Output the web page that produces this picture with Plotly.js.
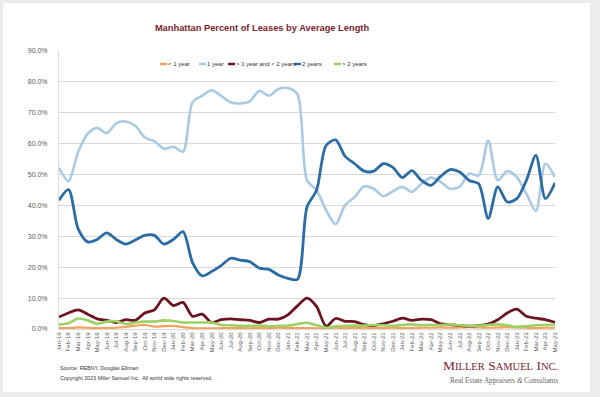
<!DOCTYPE html>
<html>
<head>
<meta charset="utf-8">
<script src="https://cdn.plot.ly/plotly-3.0.1.min.js"></script>
<style>
html,body{margin:0;padding:0;background:#ececec;width:600px;height:397px;overflow:hidden;}
#card{position:absolute;left:3px;top:3px;width:587px;height:389px;background:#ffffff;}
#chart{position:absolute;left:0;top:0;width:600px;height:397px;}
</style>
</head>
<body>
<div id="card"></div>
<div id="chart"></div>
<script>
const months = ["Jan-19","Feb-19","Mar-19","Apr-19","May-19","Jun-19","Jul-19","Aug-19","Sep-19","Oct-19","Nov-19","Dec-19",
"Jan-20","Feb-20","Mar-20","Apr-20","May-20","Jun-20","Jul-20","Aug-20","Sep-20","Oct-20","Nov-20","Dec-20",
"Jan-21","Feb-21","Mar-21","Apr-21","May-21","Jun-21","Jul-21","Aug-21","Sep-21","Oct-21","Nov-21","Dec-21",
"Jan-22","Feb-22","Mar-22","Apr-22","May-22","Jun-22","Jul-22","Aug-22","Sep-22","Oct-22","Nov-22","Dec-22",
"Jan-23","Feb-23","Mar-23","Apr-23","May-23"];

const lessThan1Year = [0.3,0.3,0.5,0.4,0.3,0.3,0.4,0.7,1.1,1.3,
0.8,0.9,1.0,0.6,0.3,0.2,0.2,0.3,0.3,0.3,
0.2,0.3,0.3,0.4,0.3,0.3,0.3,0.2,0.3,0.4,
0.3,0.3,0.4,0.3,0.3,0.4,0.3,0.3,0.4,0.4,
0.5,0.4,0.5,0.6,0.5,0.4,0.5,0.6,0.5,0.4,
0.3,0.4,0.4];

const oneYear = [52.2,47.9,57.3,63.2,65.1,63.4,66.6,67.2,65.8,62.0,
60.8,58.4,59.0,57.4,73.4,75.5,77.3,75.5,73.4,73.0,
73.7,77.1,75.5,77.7,78.0,76.0,48.1,44.9,38.5,33.9,
40.1,42.7,46.2,45.4,43.0,44.6,46.0,44.4,47.0,49.0,
47.6,45.4,46.0,50.3,49.7,61.0,48.1,51.1,49.2,43.8,
38.2,53.5,49.2];

const oneToTwoYears = [3.9,5.2,6.2,4.8,3.3,2.8,2.1,3.0,2.8,5.2,
6.2,10.0,7.6,8.6,4.1,4.8,2.1,3.0,3.3,3.0,
2.8,2.1,3.2,3.2,4.6,7.5,10.0,7.3,0.9,3.4,
2.5,2.4,1.4,1.1,1.7,2.5,3.5,2.8,3.2,3.0,
1.7,1.4,1.1,0.9,1.1,1.6,3.0,5.2,6.4,4.1,
3.5,3.0,2.1];

const twoYears = [41.7,45.1,32.5,28.2,29.0,31.1,29.0,27.5,28.8,30.3,
30.3,27.5,29.0,31.5,21.5,17.2,18.6,20.5,22.9,22.3,
21.8,19.7,19.3,17.5,16.4,16.1,39.5,44.9,59.4,61.2,
55.9,53.5,51.1,51.1,53.5,52.3,49.0,51.3,48.1,46.5,
49.4,51.6,50.8,48.1,47.0,35.8,46.0,41.1,42.2,48.1,
56.2,42.2,47.3];

const moreThan2Years = [1.4,1.9,3.4,2.8,1.7,2.4,2.5,1.6,2.1,2.4,
2.4,2.8,2.6,2.1,2.1,2.1,2.1,1.3,1.2,1.0,
1.0,1.1,0.9,1.0,1.1,1.6,2.0,1.2,0.4,0.9,
1.0,1.1,1.1,1.3,1.2,1.0,1.3,1.5,1.2,1.3,
1.3,1.5,1.2,1.0,1.0,1.3,1.5,1.2,0.7,0.9,
1.2,1.3,1.4];

const seriesNames = ["< 1 year","1 year","> 1 year and < 2 years","2 years","> 2 years"];
const seriesValues = [lessThan1Year, oneYear, oneToTwoYears, twoYears, moreThan2Years];
const seriesColors = ["#f4a35f","#a8cae3","#6c1420","#2c6ca5","#9dd163"];
const seriesWidths = [2.2,2.6,2.8,2.8,2.6];

const traces = seriesValues.map((v,k)=>({
  type:"scatter", mode:"lines", name:seriesNames[k], x:months, y:v,
  line:{color:seriesColors[k], width:seriesWidths[k], shape:"spline", smoothing:0.8},
  hoverinfo:"skip"
}));

// plot area in pixels
const PL=59, PR=555, PT=51, PB=329;
const fx = p => (p-PL)/(PR-PL);
const fy = p => (PB-p)/(PB-PT);

const legendSwatchX = [160,199,228,294,334];
const legendY = 64;
const shapes = [];
const annotations = [];
seriesNames.forEach((n,k)=>{
  shapes.push({type:"line", xref:"paper", yref:"paper",
    x0:fx(legendSwatchX[k]), x1:fx(legendSwatchX[k]+7), y0:fy(legendY), y1:fy(legendY),
    line:{color:seriesColors[k], width:2.5}});
  annotations.push({xref:"paper", yref:"paper", x:fx(legendSwatchX[k]+7), y:fy(legendY),
    xanchor:"left", yanchor:"middle", showarrow:false, text:n,
    font:{family:"Arial, 'Liberation Sans', sans-serif", size:6, color:"#333333"}, borderpad:0});
});

annotations.push({xref:"paper", yref:"paper", x:fx(59), y:fy(368), xanchor:"left", yanchor:"middle",
  showarrow:false, text:"Source: REBNY, Douglas Elliman", borderpad:0,
  font:{family:"Arial, 'Liberation Sans', sans-serif", size:5.3, color:"#333333"}});
annotations.push({xref:"paper", yref:"paper", x:fx(59), y:fy(377.5), xanchor:"left", yanchor:"middle",
  showarrow:false, text:"Copyright 2023 Miller Samuel Inc.&nbsp; All world wide rights reserved.", borderpad:0,
  font:{family:"Arial, 'Liberation Sans', sans-serif", size:5.3, color:"#333333"}});
annotations.push({xref:"paper", yref:"paper", x:fx(559), y:fy(365), xanchor:"right", yanchor:"middle",
  showarrow:false, borderpad:0,
  text:'M<span style="font-size:10.5px">ILLER</span> S<span style="font-size:10.5px">AMUEL</span> I<span style="font-size:10.5px">NC.</span>',
  font:{family:"'Liberation Serif', 'Times New Roman', serif", size:13.5, color:"#7a2530"}});
annotations.push({xref:"paper", yref:"paper", x:fx(559), y:fy(380.5), xanchor:"right", yanchor:"middle",
  showarrow:false, borderpad:0,
  text:'Real Estate Appraisers <i>&amp;</i> Consultants',
  font:{family:"'Liberation Serif', 'Times New Roman', serif", size:7.2, color:"#666666"}});

const layout = {
  width:600, height:397,
  paper_bgcolor:"rgba(0,0,0,0)", plot_bgcolor:"rgba(0,0,0,0)",
  margin:{l:PL, r:600-PR, t:PT, b:397-PB, pad:0},
  showlegend:false,
  title:{text:"Manhattan Percent of Leases by Average Length",
    font:{family:"Arial, 'Liberation Sans', sans-serif", size:9.3, color:"#7a1f2c", weight:700},
    x:262/600, xref:"container", xanchor:"center", y:1-28/397, yref:"container", yanchor:"middle"},
  xaxis:{type:"category", categoryorder:"array", categoryarray:months,
    tickangle:-90, tickfont:{family:"Arial, 'Liberation Sans', sans-serif", size:6, color:"#595959"},
    showgrid:false, zeroline:false, showline:true, linecolor:"#d9d9d9", linewidth:1, ticks:"",
    fixedrange:true},
  yaxis:{range:[0,90], dtick:10, tick0:0, tickformat:".1f", ticksuffix:"%",
    tickfont:{family:"Arial, 'Liberation Sans', sans-serif", size:7, color:"#595959"},
    showgrid:true, gridcolor:"#d9d9d9", gridwidth:1, zeroline:false,
    showline:true, linecolor:"#d9d9d9", linewidth:1, ticks:"", ticklabelstandoff:9, fixedrange:true},
  shapes:shapes,
  annotations:annotations,
  hovermode:false
};

Plotly.newPlot("chart", traces, layout, {displayModeBar:false, staticPlot:true});
</script>
</body>
</html>
